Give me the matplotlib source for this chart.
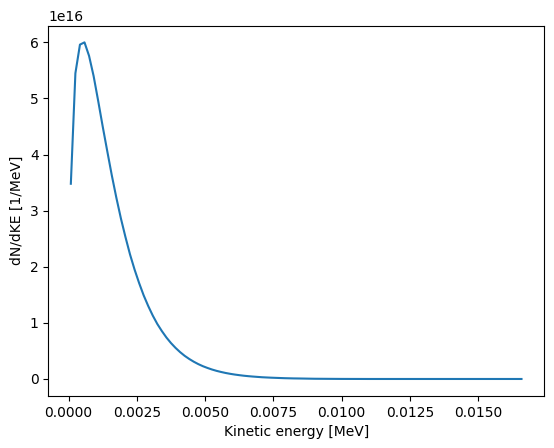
import matplotlib
matplotlib.use('Agg')
import matplotlib.pyplot as plt

# bin centres [MeV]
ke = [0.0000833, 0.00025, 0.000417, 0.000583, 0.00075, 0.000917, 0.001083, 0.00125,
      0.001417, 0.001583, 0.00175, 0.001917, 0.002083, 0.00225, 0.002417, 0.002583,
      0.00275, 0.002917, 0.003083, 0.00325, 0.003417, 0.003583, 0.00375, 0.003917,
      0.004083, 0.00425, 0.004417, 0.004583, 0.00475, 0.004917, 0.005083, 0.00525,
      0.005417, 0.005583, 0.00575, 0.005917, 0.006083, 0.00625, 0.006417, 0.006583,
      0.00675, 0.006917, 0.007083, 0.00725, 0.007417, 0.007583, 0.00775, 0.007917,
      0.008083, 0.00825, 0.008417, 0.0090, 0.0100, 0.0110, 0.0120, 0.0130, 0.0140,
      0.0150, 0.0160, 0.016583]

# dN/dKE in units of 1e16 per MeV
dnde = [3.48, 5.45, 5.96, 6.00, 5.76, 5.40, 4.96, 4.50,
        4.06, 3.63, 3.23, 2.86, 2.53, 2.22, 1.95, 1.71,
        1.49, 1.30, 1.13, 0.98, 0.853, 0.739, 0.640, 0.554,
        0.479, 0.413, 0.357, 0.308, 0.265, 0.228, 0.197, 0.169,
        0.145, 0.125, 0.107, 0.092, 0.079, 0.068, 0.058, 0.050,
        0.043, 0.037, 0.031, 0.027, 0.023, 0.020, 0.017, 0.014,
        0.012, 0.010, 0.009, 0.004, 0.001, 0.0, 0.0, 0.0, 0.0,
        0.0, 0.0, 0.0]

def main():
    y = [v * 1e16 for v in dnde]

    fig = plt.figure(figsize=(5.54, 4.48), dpi=100)
    ax = fig.add_axes([0.0872, 0.1165, 0.8948, 0.8265])
    ax.plot(ke, y)

    ax.set_xlabel('Kinetic energy [MeV]')
    ax.set_ylabel('dN/dKE [1/MeV]')
    fig.savefig('out.png', dpi=100)

if __name__ == '__main__':
    main()
